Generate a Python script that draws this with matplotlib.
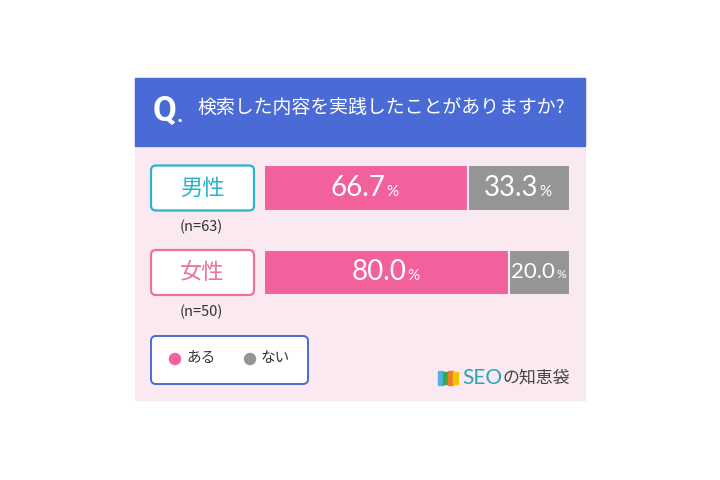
import matplotlib
matplotlib.use('Agg')
import matplotlib.pyplot as plt
from matplotlib.patches import Rectangle, FancyBboxPatch, Circle

plt.rcParams['font.family'] = ['Noto Sans CJK JP', 'DejaVu Sans']

question = '検索した内容を実践したことがありますか?'
groups = ['男性', '女性']
n_labels = ['(n=63)', '(n=50)']
aru = [66.7, 80.0]
nai = [33.3, 20.0]
legend_labels = ['ある', 'ない']

blue = '#4a6bd6'
pink = '#f2609d'
gray = '#959595'
bg_pink = '#fbe9f2'
group_colors = ['#2ab4cc', '#ea7499']
num_font = ['Lato', 'DejaVu Sans']

fig = plt.figure(figsize=(7.2, 4.8), dpi=100)
fig.patch.set_facecolor('white')

# 背景・枠などは画素座標で
ax = fig.add_axes([0, 0, 1, 1])
ax.set_xlim(0, 720)
ax.set_ylim(480, 0)
ax.axis('off')

ax.add_patch(Rectangle((135, 78), 450, 322, color=bg_pink, zorder=0))
ax.add_patch(Rectangle((135, 78), 450, 68, color=blue, zorder=1))
q = ax.text(153, 111, 'Q', color='white', fontsize=25, fontweight='bold',
            ha='left', va='center', family=['Roboto', 'DejaVu Sans'])
ax.annotate('.', xy=(1, 0), xycoords=q, xytext=(0, 0), textcoords='offset points',
            color='white', fontsize=16, fontweight='bold', ha='left', va='bottom',
            family=['Roboto', 'DejaVu Sans'])
ax.text(197, 108, question, color='white', fontsize=13.6, ha='left', va='center')

centers = [188, 272.5]
for i, g in enumerate(groups):
    cy = centers[i]
    ax.add_patch(FancyBboxPatch((151, cy - 22.5), 103, 45,
                                boxstyle='round,pad=0,rounding_size=5',
                                fc='white', ec=group_colors[i], lw=1.6, zorder=2))
    ax.text(202, cy, g, color=group_colors[i], fontsize=16, ha='center', va='center',
            zorder=3)
    ax.text(201, cy + 39, n_labels[i], color='#333333', fontsize=10.5,
            ha='center', va='center', zorder=3)

# 凡例
ax.add_patch(FancyBboxPatch((151, 336), 157, 48, boxstyle='round,pad=0,rounding_size=5',
                            fc='white', ec=blue, lw=1.4, zorder=2))
for x0, c, lab in zip([175, 250], [pink, gray], legend_labels):
    ax.add_patch(Circle((x0, 359), 5.5, color=c, zorder=3))
    ax.text(x0 + 11, 358, lab, fontsize=10.5, color='#333333', ha='left', va='center', zorder=3)

# ロゴ
for k, c in enumerate(['#4fb3e8', '#3aa84a', '#ee7d2a', '#f5c200']):
    ax.add_patch(Rectangle((438 + k * 5, 371 + (k % 2)), 5, 14 - 2 * (k % 2), color=c, zorder=3))
seo = ax.text(462, 378, 'SEO', color='#2aa5b8', fontsize=15, ha='left', va='center',
              family=num_font, zorder=3)
ax.annotate('の知恵袋', xy=(1, 0.5), xycoords=seo, xytext=(0.5, 0), textcoords='offset points',
            color='#444444', fontsize=12.2, ha='left', va='center', zorder=3)

# 帯グラフ
bx = fig.add_axes([264 / 720, 1 - 314.75 / 480, 306 / 720, 169 / 480])
bx.patch.set_alpha(0)
ypos = list(range(len(groups)))
bx.barh(ypos, aru, height=0.535, color=pink, edgecolor=bg_pink, linewidth=1.5)
bx.barh(ypos, nai, left=aru, height=0.535, color=gray, edgecolor=bg_pink, linewidth=1.5)
bx.set_xlim(0, 100)
bx.set_ylim(1.5, -0.5)
bx.axis('off')

for i in ypos:
    for start, val in [(0, aru[i]), (aru[i], nai[i])]:
        fs = 20 if val >= 25 else 16
        num = bx.annotate(f'{val:.1f}', xy=(start + val / 2, i), xytext=(-fs * 0.28, 0),
                          textcoords='offset points', ha='center', va='center',
                          color='white', fontsize=fs, family=num_font)
        bx.annotate('%', xy=(1, 0), xycoords=num, xytext=(0.8, 1.5), textcoords='offset points',
                    ha='left', va='bottom', color='white', fontsize=fs * 0.55, family=num_font)

fig.savefig('out.png', dpi=100)
